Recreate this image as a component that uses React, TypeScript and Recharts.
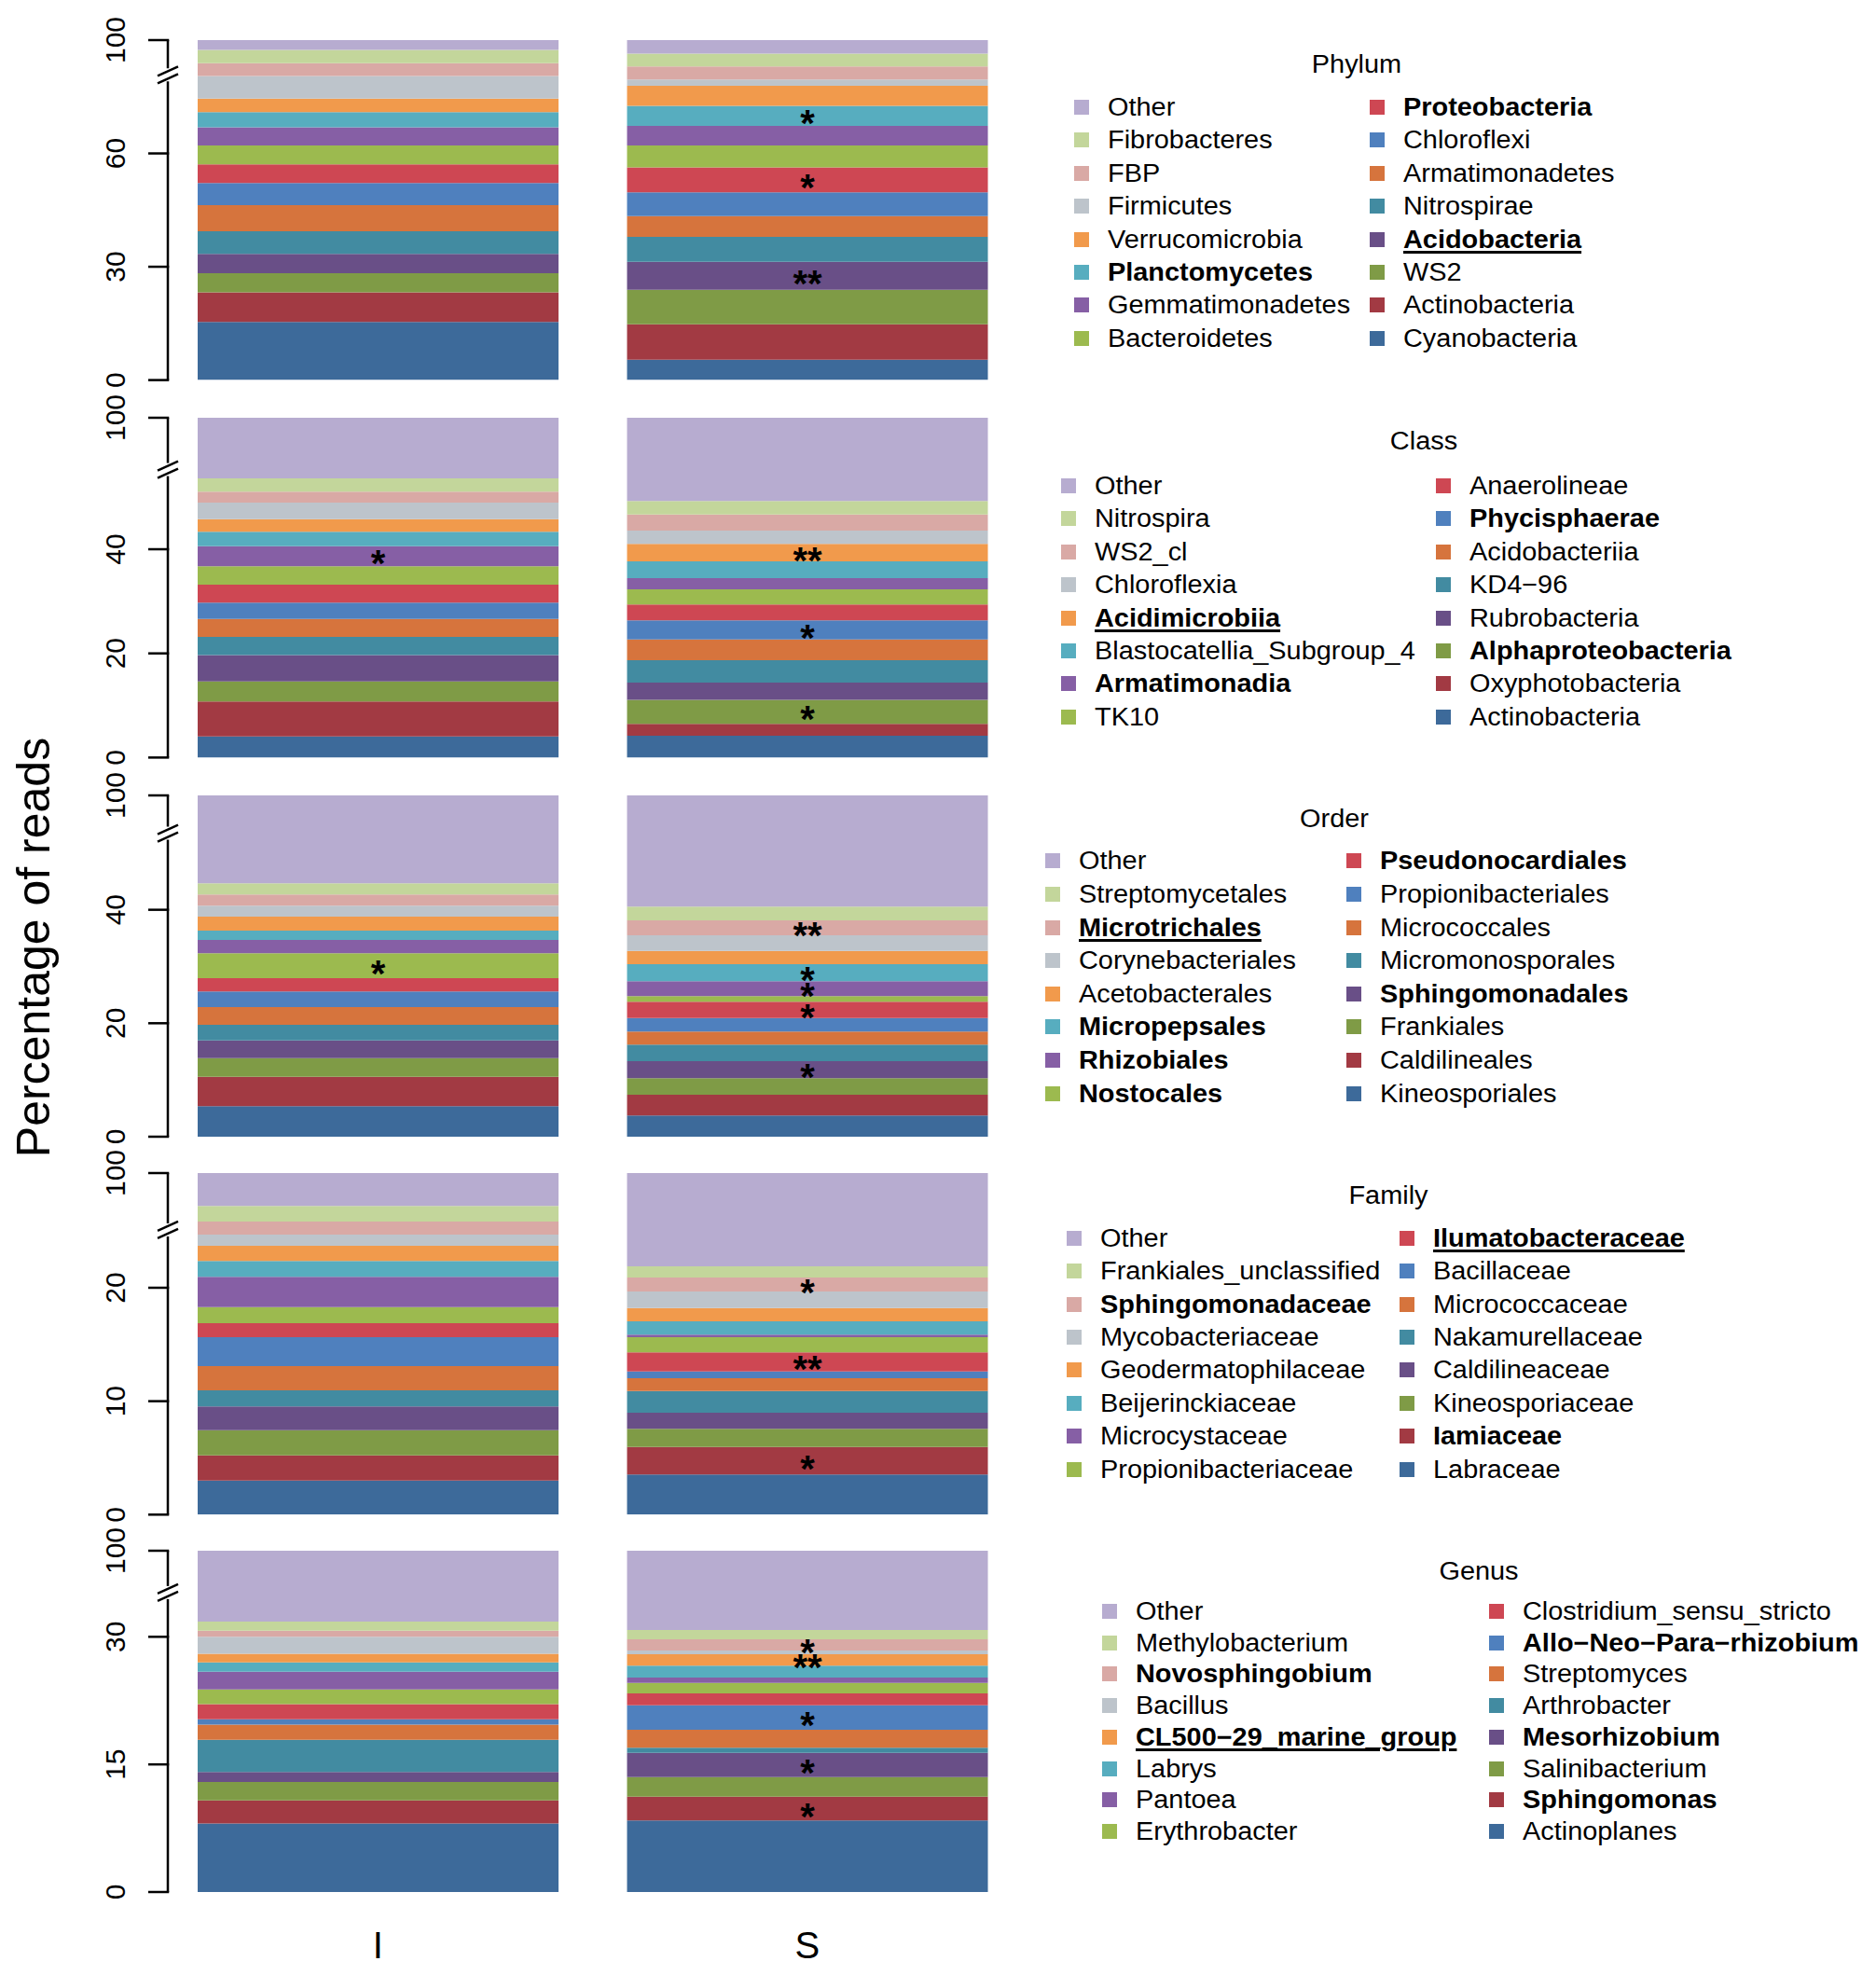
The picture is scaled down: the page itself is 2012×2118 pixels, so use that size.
import React from "react";
import { BarChart, Bar, XAxis, YAxis, LabelList } from "recharts";

const FONT = '"Liberation Sans", Arial, Helvetica, sans-serif';

// colours in legend order (top of the stack first)
const palette = [
  "#B7ACD0", "#C3D69B", "#D9A9A5", "#BDC4CB", "#F19A4C", "#57ADBF", "#865FA5", "#9CBA4F",
  "#CE4753", "#4F80BE", "#D6743D", "#428BA1", "#694F87", "#7F9B46", "#A23A43", "#3D6A9A",
];

const samples = ["I", "S"];

// ---- Phylum ----
const phylumNames = [
  "Other", "Fibrobacteres", "FBP", "Firmicutes", "Verrucomicrobia", "Planctomycetes", "Gemmatimonadetes", "Bacteroidetes",
  "Proteobacteria", "Chloroflexi", "Armatimonadetes", "Nitrospirae", "Acidobacteria", "WS2", "Actinobacteria", "Cyanobacteria",
];
const phylumI = [2.6, 3.5, 3.4, 6.0, 3.6, 4.0, 4.8, 5.0, 4.9, 5.9, 6.9, 6.0, 5.1, 5.1, 7.8, 15.4];
const phylumS = [3.6, 3.4, 3.4, 1.7, 5.3, 5.3, 5.2, 5.8, 6.6, 6.3, 5.5, 6.6, 7.4, 9.1, 9.4, 5.4];
const phylumStarsI = ["", "", "", "", "", "", "", "", "", "", "", "", "", "", "", ""];
const phylumStarsS = ["", "", "", "", "", "*", "", "", "*", "", "", "", "**", "", "", ""];
const phylumBold = ["Proteobacteria", "Planctomycetes", "Acidobacteria"];
const phylumUnderline = ["Acidobacteria"];
const phylumTicks = [0, 30, 60];

// ---- Class ----
const classNames = [
  "Other", "Nitrospira", "WS2_cl", "Chloroflexia", "Acidimicrobiia", "Blastocatellia_Subgroup_4", "Armatimonadia", "TK10",
  "Anaerolineae", "Phycisphaerae", "Acidobacteriia", "KD4\u221296", "Rubrobacteria", "Alphaproteobacteria", "Oxyphotobacteria", "Actinobacteria",
];
const classI = [11.64, 2.57, 2.08, 3.17, 2.45, 2.74, 3.88, 3.53, 3.46, 3.1, 3.47, 3.46, 5.07, 3.88, 6.69, 4.06];
const classS = [16.0, 2.56, 3.11, 2.57, 3.34, 3.22, 2.15, 2.93, 3.04, 3.64, 4.0, 4.3, 3.29, 4.65, 2.27, 4.18];
const classStarsI = ["", "", "", "", "", "", "*", "", "", "", "", "", "", "", "", ""];
const classStarsS = ["", "", "", "", "**", "", "", "", "", "*", "", "", "", "*", "", ""];
const classBold = ["Acidimicrobiia", "Armatimonadia", "Phycisphaerae", "Alphaproteobacteria"];
const classUnderline = ["Acidimicrobiia"];
const classTicks = [0, 20, 40];

// ---- Order ----
const orderNames = [
  "Other", "Streptomycetales", "Microtrichales", "Corynebacteriales", "Acetobacterales", "Micropepsales", "Rhizobiales", "Nostocales",
  "Pseudonocardiales", "Propionibacteriales", "Micrococcales", "Micromonosporales", "Sphingomonadales", "Frankiales", "Caldilineales", "Kineosporiales",
];
const orderI = [15.5, 1.98, 1.97, 1.92, 2.46, 1.65, 2.35, 4.38, 2.36, 2.74, 3.12, 2.74, 3.13, 3.28, 5.21, 5.37];
const orderS = [19.61, 2.41, 2.63, 2.74, 2.36, 3.01, 2.63, 0.99, 2.85, 2.41, 2.3, 2.9, 3.02, 2.9, 3.67, 3.73];
const orderStarsI = ["", "", "", "", "", "", "", "*", "", "", "", "", "", "", "", ""];
const orderStarsS = ["", "", "**", "", "", "*", "*", "", "*", "", "", "", "*", "", "", ""];
const orderBold = ["Microtrichales", "Micropepsales", "Rhizobiales", "Nostocales", "Pseudonocardiales", "Sphingomonadales"];
const orderUnderline = ["Microtrichales"];
const orderTicks = [0, 20, 40];

// ---- Family ----
const familyNames = [
  "Other", "Frankiales_unclassified", "Sphingomonadaceae", "Mycobacteriaceae", "Geodermatophilaceae", "Beijerinckiaceae", "Microcystaceae", "Propionibacteriaceae",
  "Ilumatobacteraceae", "Bacillaceae", "Micrococcaceae", "Nakamurellaceae", "Caldilineaceae", "Kineosporiaceae", "Iamiaceae", "Labraceae",
];
const familyI = [2.9, 1.37, 1.16, 0.98, 1.34, 1.4, 2.66, 1.42, 1.24, 2.54, 2.14, 1.43, 2.08, 2.22, 2.22, 3.01];
const familyS = [8.22, 0.99, 1.23, 1.45, 1.18, 1.18, 0.22, 1.34, 1.67, 0.6, 1.13, 1.91, 1.43, 1.59, 2.44, 3.53];
const familyStarsI = ["", "", "", "", "", "", "", "", "", "", "", "", "", "", "", ""];
const familyStarsS = ["", "", "*", "", "", "", "", "", "**", "", "", "", "", "", "*", ""];
const familyBold = ["Sphingomonadaceae", "Ilumatobacteraceae", "Iamiaceae"];
const familyUnderline = ["Ilumatobacteraceae"];
const familyTicks = [0, 10, 20];

// ---- Genus ----
const genusNames = [
  "Other", "Methylobacterium", "Novosphingobium", "Bacillus", "CL500\u221229_marine_group", "Labrys", "Pantoea", "Erythrobacter",
  "Clostridium_sensu_stricto", "Allo\u2212Neo\u2212Para\u2212rhizobium", "Streptomyces", "Arthrobacter", "Mesorhizobium", "Salinibacterium", "Sphingomonas", "Actinoplanes",
];
const genusI = [8.33, 1.06, 0.73, 1.98, 1.02, 1.1, 2.08, 1.72, 1.79, 0.62, 1.79, 3.8, 1.17, 2.15, 2.71, 8.07];
const genusS = [9.32, 1.1, 1.31, 0.44, 1.35, 1.39, 0.62, 1.24, 1.39, 2.89, 2.12, 0.58, 2.85, 2.3, 2.82, 8.4];
const genusStarsI = ["", "", "", "", "", "", "", "", "", "", "", "", "", "", "", ""];
const genusStarsS = ["", "", "*", "", "**", "", "", "", "", "*", "", "", "*", "", "*", ""];
const genusBold = ["Novosphingobium", "CL500\u221229_marine_group", "Allo\u2212Neo\u2212Para\u2212rhizobium", "Mesorhizobium", "Sphingomonas"];
const genusUnderline = ["CL500\u221229_marine_group"];
const genusTicks = [0, 15, 30];

// axis top (drawn height, labelled 100) and position of the axis break
const axisTops = [90, 65.25, 60.16, 30.11, 40.12];
const axisBreaks = [80.8, 55.3, 53.5, 25.1, 35.2];

// page layout (px)
const layout = [
  { plotTop: 42.7, plotBottom: 407.3, titleX: 1455, titleY: 69, rowY: 115, rowGap: 35.4, sqL: 1152, txL: 1188, sqR: 1469, txR: 1505 },
  { plotTop: 448.3, plotBottom: 812.7, titleX: 1527, titleY: 473, rowY: 521, rowGap: 35.4, sqL: 1138, txL: 1174, sqR: 1540, txR: 1576 },
  { plotTop: 852.7, plotBottom: 1218.7, titleX: 1431, titleY: 878, rowY: 923.4, rowGap: 35.6, sqL: 1121, txL: 1157, sqR: 1444, txR: 1480 },
  { plotTop: 1257.7, plotBottom: 1624, titleX: 1489, titleY: 1282, rowY: 1327.8, rowGap: 35.4, sqL: 1144, txL: 1180, sqR: 1501, txR: 1537 },
  { plotTop: 1663, plotBottom: 2029, titleX: 1586, titleY: 1685, rowY: 1728, rowGap: 33.7, sqL: 1182, txL: 1218, sqR: 1597, txR: 1633 },
];

const panels = [
  { title: "Phylum", names: phylumNames, I: phylumI, S: phylumS, starsI: phylumStarsI, starsS: phylumStarsS, bold: phylumBold, underline: phylumUnderline, ticks: phylumTicks },
  { title: "Class", names: classNames, I: classI, S: classS, starsI: classStarsI, starsS: classStarsS, bold: classBold, underline: classUnderline, ticks: classTicks },
  { title: "Order", names: orderNames, I: orderI, S: orderS, starsI: orderStarsI, starsS: orderStarsS, bold: orderBold, underline: orderUnderline, ticks: orderTicks },
  { title: "Family", names: familyNames, I: familyI, S: familyS, starsI: familyStarsI, starsS: familyStarsS, bold: familyBold, underline: familyUnderline, ticks: familyTicks },
  { title: "Genus", names: genusNames, I: genusI, S: genusS, starsI: genusStarsI, starsS: genusStarsS, bold: genusBold, underline: genusUnderline, ticks: genusTicks },
];

const AXIS_X = 180;

const YTick = (props: any) => {
  const { y, payload, top, brk } = props;
  const v = payload.value;
  if (v === brk) {
    return (
      <g>
        <rect x={AXIS_X - 6} y={y - 7} width={12} height={14} fill="#fff" />
        <line x1={AXIS_X - 11} y1={y + 1} x2={AXIS_X + 11} y2={y - 9} stroke="#000" strokeWidth={2.5} />
        <line x1={AXIS_X - 11} y1={y + 9} x2={AXIS_X + 11} y2={y - 1} stroke="#000" strokeWidth={2.5} />
      </g>
    );
  }
  return (
    <g>
      <line x1={AXIS_X - 21} y1={y} x2={AXIS_X + 1.25} y2={y} stroke="#000" strokeWidth={2.5} />
      <text
        transform={`translate(134,${y}) rotate(-90)`}
        textAnchor="middle"
        fontSize={30}
        fontFamily={FONT}
        fill="#000"
      >
        {v === top ? "100" : String(v)}
      </text>
    </g>
  );
};

const XTick = (props: any) => {
  const { x, y, payload } = props;
  return (
    <text x={x} y={y + 71} textAnchor="middle" fontSize={40} fontFamily={FONT} fill="#000">
      {payload.value}
    </text>
  );
};

const starContent = (starI: string, starS: string) => (props: any) => {
  const { x, y, width, height, index } = props;
  const s = index === 0 ? starI : starS;
  if (!s) return null;
  return (
    <text
      x={Number(x) + Number(width) / 2}
      y={Number(y) + Number(height) / 2 + 22}
      textAnchor="middle"
      fontSize={40}
      fontWeight="bold"
      fontFamily={FONT}
      fill="#000"
    >
      {s}
    </text>
  );
};

function Panel({ idx, showX }: { idx: number; showX: boolean }) {
  const p = panels[idx];
  const L = layout[idx];
  const top = axisTops[idx];
  const brk = axisBreaks[idx];
  const mt = 40;
  const mb = 20;
  const xh = showX ? 80 : 0;
  const plotH = L.plotBottom - L.plotTop;
  const height = plotH + mt + mb + xh;

  const data = samples.map((s, si) => {
    const row: any = { name: s };
    const vals = si === 0 ? p.I : p.S;
    p.names.forEach((_, i) => (row[`k${i}`] = vals[i]));
    return row;
  });
  // first Bar is drawn at the bottom of the stack
  const order = p.names.map((_, i) => i).reverse();

  return (
    <div style={{ position: "absolute", left: 0, top: L.plotTop - mt }}>
      <BarChart
        width={1100}
        height={height}
        data={data}
        margin={{ top: mt, right: 4, bottom: mb, left: 0 }}
        barCategoryGap={37}
      >
        <XAxis
          dataKey="name"
          hide={!showX}
          height={xh}
          axisLine={false}
          tickLine={false}
          tickSize={0}
          tickMargin={0}
          padding={{ left: -5, right: 0 }}
          tick={<XTick />}
        />
        <YAxis
          type="number"
          width={180}
          domain={[0, top]}
          allowDataOverflow
          ticks={[...p.ticks, brk, top]}
          interval={0}
          axisLine={{ stroke: "#000", strokeWidth: 2.5 }}
          tickLine={false}
          tick={(tp: any) => <YTick {...tp} top={top} brk={brk} />}
        />
        {order.map((i) => (
          <Bar
            key={i}
            dataKey={`k${i}`}
            name={p.names[i]}
            stackId="a"
            fill={palette[i]}
            isAnimationActive={false}
          >
            <LabelList content={starContent(p.starsI[i], p.starsS[i])} />
          </Bar>
        ))}
      </BarChart>
    </div>
  );
}

function TaxonLegend({ idx }: { idx: number }) {
  const p = panels[idx];
  const L = layout[idx];
  const textBase: React.CSSProperties = {
    position: "absolute",
    fontSize: 27,
    lineHeight: "30px",
    fontFamily: FONT,
    color: "#000",
    whiteSpace: "nowrap",
    transform: "scaleX(1.07)",
    transformOrigin: "left center",
  };
  return (
    <>
      <div
        style={{
          ...textBase,
          left: L.titleX - 150,
          width: 300,
          top: L.titleY - 15,
          textAlign: "center",
          transformOrigin: "center center",
        }}
      >
        {p.title}
      </div>
      {p.names.map((n, i) => {
        const col = i < 8 ? 0 : 1;
        const row = i % 8;
        const cy = L.rowY + row * L.rowGap;
        const isBold = p.bold.includes(n);
        const isUnder = p.underline.includes(n);
        return (
          <React.Fragment key={n}>
            <div
              style={{
                position: "absolute",
                left: col === 0 ? L.sqL : L.sqR,
                top: cy - 8,
                width: 16,
                height: 16,
                background: palette[i],
              }}
            />
            <div
              style={{
                ...textBase,
                left: col === 0 ? L.txL : L.txR,
                top: cy - 15,
                fontWeight: isBold ? "bold" : "normal",
                textDecoration: isUnder ? "underline" : "none",
                textDecorationThickness: "2.5px",
                textUnderlineOffset: "3px",
              }}
            >
              {n}
            </div>
          </React.Fragment>
        );
      })}
    </>
  );
}

export default function App() {
  return (
    <div
      style={{
        position: "absolute",
        left: 0,
        top: 0,
        width: 2012,
        height: 2118,
        background: "#fff",
        fontFamily: FONT,
        overflow: "hidden",
      }}
    >
      {panels.map((_, i) => (
        <Panel key={i} idx={i} showX={i === panels.length - 1} />
      ))}
      {panels.map((_, i) => (
        <TaxonLegend key={i} idx={i} />
      ))}
      <svg
        width={100}
        height={2118}
        style={{ position: "absolute", left: 0, top: 0, pointerEvents: "none" }}
      >
        <text
          transform="translate(53,1016) rotate(-90)"
          textAnchor="middle"
          fontSize={50}
          fontFamily={FONT}
          fill="#000"
        >
          Percentage of reads
        </text>
      </svg>
    </div>
  );
}
